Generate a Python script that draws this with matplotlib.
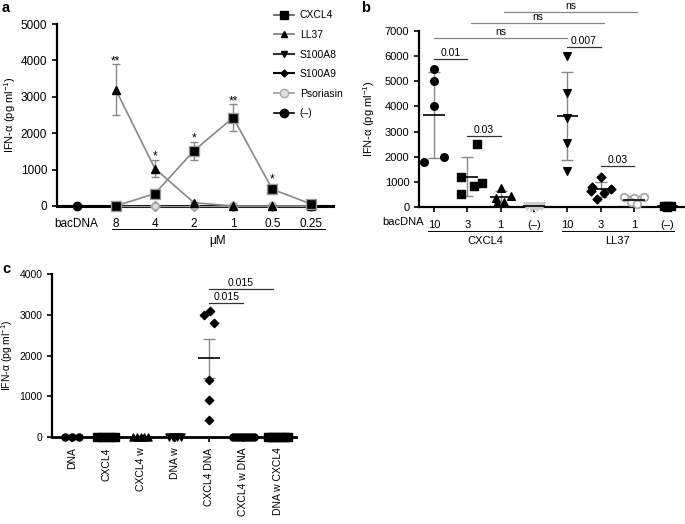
import numpy as np
import matplotlib.pyplot as plt
from matplotlib.lines import Line2D
import matplotlib.transforms as mtrans

plt.rcParams['font.family'] = ['Liberation Sans', 'DejaVu Sans']
plt.rcParams['mathtext.fontset'] = 'custom'
plt.rcParams['mathtext.rm'] = 'Liberation Sans'
plt.rcParams['mathtext.it'] = 'Liberation Sans:italic'

W, H = 685, 524
ylab = "IFN-α (pg ml$^{-1}$)"

# ---- panel a: dose response (mean, error)
a_labels = ["bacDNA", "8", "4", "2", "1", "0.5", "0.25"]
cxcl4 = [np.nan, 0, 340, 1520, 2430, 460, 50]
cxcl4_err = [0, 0, 80, 250, 380, 110, 30]
ll37 = [np.nan, 3200, 1030, 90, 0, 0, 0]
ll37_err = [0, 700, 245, 30, 0, 0, 0]
s100a8 = [np.nan, 0, 0, 0, 0, 0, 0]
s100a9 = [np.nan, 0, 0, 0, 0, 0, 0]
psoriasin = [np.nan, 0, 0, 0, 0, 0, 0]
neg = [0, np.nan, np.nan, np.nan, np.nan, np.nan, np.nan]
star_x = [1, 2, 3, 4, 5]
star_y = [4050, 1455, 1950, 2965, 830]
star_txt = ["**", "*", "*", "**", "*"]

# ---- panel b: individual donors
b_labels = ["10", "3", "1", "(–)", "10", "3", "1", "(–)"]
b_vals = [
    [5500, 5000, 4000, 2000, 1800],
    [2500, 1200, 950, 850, 500],
    [750, 450, 350, 200, 150],
    [40, 30, 20, 10, 0],
    [6000, 4550, 3550, 2550, 1450],
    [1200, 800, 700, 650, 550, 300],
    [400, 400, 350, 200, 100],
    [30, 20, 20, 10],
]
b_jit = [
    [0, 0, 0, 0.3, -0.3],
    [0.3, -0.2, 0.45, 0.2, -0.2],
    [0, 0.3, -0.15, 0.1, -0.1],
    [-0.2, 0.2, 0, -0.1, 0.1],
    [0, 0, 0, 0, 0],
    [0, -0.25, 0.3, -0.3, 0.1, -0.1],
    [-0.3, 0.3, 0, -0.1, 0.1],
    [-0.1, 0.1, 0, 0],
]
b_markers = ['o', 's', '^', 'v', 'v', 'D', 'o', 's']
b_brackets = [  # x0, x1, y, text
    (0, 1, 5880, "0.01"),
    (1, 2, 2820, "0.03"),
    (4, 5, 6360, "0.007"),
    (5, 6, 1630, "0.03"),
    (0, 4, 6720, "ns"),
    (1.1, 5.1, 7320, "ns"),
    (2.1, 6.1, 7760, "ns"),
]

# ---- panel c: washing experiment
c_labels = ["DNA", "CXCL4", "CXCL4 w", "DNA w", "CXCL4 DNA", "CXCL4 w DNA", "DNA w CXCL4"]
c_vals = [
    [0, 0, 0],
    [0, 0, 0, 0, 0],
    [0, 0, 0, 0, 0],
    [0, 0, 0, 0],
    [3000, 3100, 2800, 1400, 900, 420],
    [0, 0, 0, 0, 0, 0, 0, 0],
    [0, 0, 0, 0, 0, 0, 0],
]
c_jit = [
    [-0.2, 0, 0.2],
    [-0.26, -0.13, 0, 0.13, 0.26],
    [-0.22, -0.11, 0, 0.11, 0.22],
    [-0.18, -0.06, 0.06, 0.18],
    [-0.15, 0.02, 0.15, 0, 0, 0],
    [-0.32, -0.23, -0.14, -0.05, 0.05, 0.14, 0.23, 0.32],
    [-0.3, -0.2, -0.1, 0, 0.1, 0.2, 0.3],
]
c_markers = ['o', 's', '^', 'v', 'D', 'o', 's']
c_brackets = [(4, 5, 3285, "0.015"), (4, 5.85, 3630, "0.015")]


def px_axes(l, t, r, b):
    return fig.add_axes([l / W, 1 - b / H, (r - l) / W, (b - t) / H])


def style(ax, fs):
    for s in ['top', 'right']:
        ax.spines[s].set_visible(False)
    ax.spines['left'].set_linewidth(1.6)
    ax.spines['bottom'].set_linewidth(1.6)
    ax.tick_params(width=1.2, length=3.5, labelsize=fs)


def bracket(ax, x0, x1, y, txt, col):
    ax.plot([x0, x1], [y, y], color=col, lw=0.9, clip_on=False)
    ax.annotate(txt, ((x0 + x1) / 2, y), xytext=(0, 1), textcoords='offset points',
                ha='center', va='bottom', fontsize=7.5, annotation_clip=False)


fig = plt.figure(figsize=(W / 100, H / 100), dpi=100)

# ================= panel a =================
ax = px_axes(57, 24, 333, 206)
x = np.arange(len(a_labels))
zkw = dict(ms=5, clip_on=False, zorder=3)
ax.plot(x, s100a8, '-v', color='#222222', mfc='#333333', mec='#999999', lw=2, **zkw)
ax.plot(x, s100a9, '-D', color='black', mfc='#333333', mec='#999999', lw=2, **zkw)
ax.plot(x, psoriasin, '-o', color='#999999', mfc='#dddddd', mec='#aaaaaa', lw=1, **zkw)
ax.plot(x, neg, '-o', color='black', mfc='black', mec='black', ms=6, clip_on=False, zorder=3)
ax.errorbar(x, ll37, yerr=ll37_err, fmt='-^', color='#888888', mfc='black', mec='black',
            ms=6, lw=1.2, ecolor='#888888', elinewidth=1, capsize=3, clip_on=False, zorder=4)
ax.errorbar(x, cxcl4, yerr=cxcl4_err, fmt='-s', color='#888888', mfc='black', mec='#999999',
            ms=6.5, lw=1.2, ecolor='#888888', elinewidth=1, capsize=3, clip_on=False, zorder=4)
for sx, sy, st in zip(star_x, star_y, star_txt):
    ax.annotate(st, (sx, sy), xytext=(0, -4.5), textcoords='offset points',
                ha='center', va='baseline', fontsize=8.5)
ax.set_xlim(-0.5, 6.55)
ax.set_ylim(0, 5000)
ax.set_yticks([0, 1000, 2000, 3000, 4000, 5000])
ax.set_xticks(x)
ax.set_xticklabels(a_labels)
style(ax, 8.5)
ax.tick_params(axis='x', pad=5)
ax.spines['bottom'].set_linewidth(2.2)
ax.set_ylabel(ylab, fontsize=8)
ax.yaxis.set_label_coords(-0.14, 0.5)
tr = mtrans.blended_transform_factory(ax.transData, ax.transAxes)
ax.plot([0.9, 6.35], [-0.129, -0.129], color='black', lw=0.7, transform=tr, clip_on=False)
ax.text(3.6, -0.19, "μM", transform=tr, ha='center', va='center', fontsize=8.5)

handles = [
    Line2D([], [], color='#555555', marker='s', mfc='black', mec='black', ms=6, lw=1.2),
    Line2D([], [], color='#777777', marker='^', mfc='black', mec='black', ms=5, lw=1.2),
    Line2D([], [], color='#333333', marker='v', mfc='black', mec='black', ms=5, lw=1.5),
    Line2D([], [], color='black', marker='D', mfc='black', mec='black', ms=3.5, lw=1.5),
    Line2D([], [], color='#999999', marker='o', mfc='#dddddd', mec='#aaaaaa', ms=6, lw=1.2),
    Line2D([], [], color='black', marker='o', mfc='black', mec='black', ms=6, lw=1.2),
]
ax.legend(handles, ["CXCL4", "LL37", "S100A8", "S100A9", "Psoriasin", "(–)"],
          loc='upper left', bbox_to_anchor=(0.785, 1.075), frameon=False, fontsize=7.5,
          handlelength=2.0, handletextpad=0.5, labelspacing=0.92, borderpad=0, borderaxespad=0)

# ================= panel b =================
ax = px_axes(419, 31, 684, 207)
for i, (v, j, m) in enumerate(zip(b_vals, b_jit, b_markers)):
    v = np.array(v, float)
    if i == 6:
        ax.scatter(i + np.array(j), v, marker='o', s=30, facecolor='white', edgecolor='#aaaaaa',
                   linewidth=1.3, clip_on=False, zorder=3)
    else:
        col = '#cccccc' if i == 3 else 'black'
        ax.scatter(i + np.array(j), v, marker=m, s=30 if m != 'D' else 20, color=col,
                   clip_on=False, zorder=3)
    mu, sd = v.mean(), v.std(ddof=1)
    ax.errorbar(i, mu, yerr=sd, color='#888888', elinewidth=1, capsize=4, capthick=1, zorder=2)
    ax.hlines(mu, i - 0.32, i + 0.32, color='black', lw=1.2, zorder=4)
for x0, x1, y, t in b_brackets:
    bracket(ax, x0, x1, y, t, '#888888' if t == "ns" else '#333333')
ax.set_xlim(-0.45, 7.5)
ax.set_ylim(0, 7000)
ax.set_yticks(range(0, 7001, 1000))
ax.set_xticks(range(len(b_labels)))
ax.set_xticklabels(b_labels)
style(ax, 8)
ax.tick_params(axis='x', pad=5.5)
ax.set_ylabel(ylab, fontsize=8)
ax.yaxis.set_label_coords(-0.16, 0.5)
tr = mtrans.blended_transform_factory(ax.transData, ax.transAxes)
ax.text(-0.93, -0.083, "bacDNA", transform=tr, ha='center', va='center', fontsize=8)
for x0, x1, name in [(-0.18, 3.23, "CXCL4"), (3.83, 7.2, "LL37")]:
    ax.plot([x0, x1], [-0.136, -0.136], color='black', lw=0.7, transform=tr, clip_on=False)
    ax.text((x0 + x1) / 2, -0.195, name, transform=tr, ha='center', va='center', fontsize=8)

# ================= panel c =================
ax = px_axes(52, 274, 296, 437)
for i, (v, j, m) in enumerate(zip(c_vals, c_jit, c_markers)):
    v = np.array(v, float)
    ax.scatter(i + np.array(j), v, marker=m, s=26 if m != 'D' else 18, color='black',
               clip_on=False, zorder=3)
    mu, se = v.mean(), v.std(ddof=1) / np.sqrt(len(v))
    if se > 0:
        ax.errorbar(i, mu, yerr=se, color='#888888', elinewidth=1, capsize=4, capthick=1, zorder=2)
    ax.hlines(mu, i - 0.32, i + 0.32, color='black', lw=1.2, zorder=4)
for x0, x1, y, t in c_brackets:
    bracket(ax, x0, x1, y, t, '#333333')
ax.set_xlim(-0.58, 6.53)
ax.set_ylim(0, 4000)
ax.set_yticks([0, 1000, 2000, 3000, 4000])
ax.set_xticks(range(len(c_labels)))
ax.set_xticklabels(c_labels, rotation=90)
style(ax, 7.5)
ax.tick_params(axis='x', pad=4)
ax.spines['bottom'].set_linewidth(2)
ax.set_ylabel(ylab, fontsize=7.5)
ax.yaxis.set_label_coords(-0.15, 0.5)

fig.text(2 / W, 1 - 12 / H, "a", fontsize=10.5, fontweight='bold', va='baseline')
fig.text(361 / W, 1 - 12 / H, "b", fontsize=10.5, fontweight='bold', va='baseline')
fig.text(2 / W, 1 - 273 / H, "c", fontsize=10.5, fontweight='bold', va='baseline')

fig.savefig("out.png", dpi=100)
